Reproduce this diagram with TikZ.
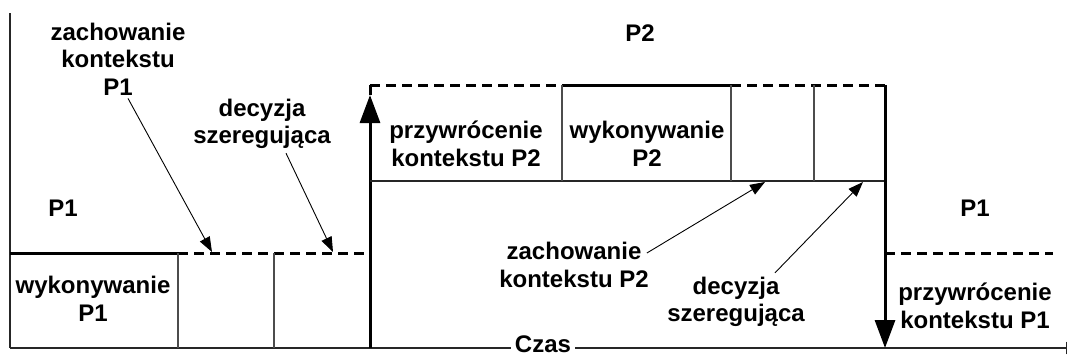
\documentclass[tikz,border=0pt]{standalone}
\usepackage{fontspec}
\setmainfont{Liberation Sans}
\usetikzlibrary{arrows.meta}
\begin{document}
\begin{tikzpicture}[x=1pt,y=-1pt,
  lbl/.style={font=\bfseries\fontsize{24}{27.5}\selectfont, align=center, inner sep=0pt},
  ptr/.style={draw, line width=0.9pt, -{Triangle[length=15pt,width=11pt]}},
  heavy/.style={line width=3pt},
  dashheavy/.style={line width=3pt, dash pattern=on 10pt off 6pt},
  cell/.style={draw=black!70, line width=1.2pt},
  axisline/.style={draw=black!85, line width=1.3pt},
  bigtip/.style={-{Triangle[length=28pt,width=20pt]}}
]
\useasboundingbox (0,0) rectangle (1067,356);

% coordinates
\coordinate (o) at (10,348);
\coordinate (top) at (10,13);
\coordinate (xend) at (1082,348);
\coordinate (a1) at (10,253);
\coordinate (a2) at (178,253);
\coordinate (a3) at (274,253);
\coordinate (a4) at (370,253);
\coordinate (a2b) at (178,348);
\coordinate (a3b) at (274,348);
\coordinate (u0) at (370,348);
\coordinate (utip) at (370,95);
\coordinate (b0) at (370,85);
\coordinate (b1) at (562,85);
\coordinate (b2) at (731,85);
\coordinate (b3) at (814,85);
\coordinate (b4) at (885,85);
\coordinate (c0) at (370,181);
\coordinate (c1) at (562,181);
\coordinate (c2) at (731,181);
\coordinate (c3) at (814,181);
\coordinate (c4) at (885,181);
\coordinate (d0) at (885,348);
\coordinate (e0) at (885,253);
\coordinate (e1) at (1053,253);
\coordinate (t1) at (212,252);
\coordinate (t2) at (333,252);
\coordinate (t3) at (765,182);
\coordinate (t4) at (863,182);

% axes
\draw[axisline] (top) -- (o);
\draw[axisline, -{Triangle[length=16pt,width=12pt]}] (o) -- (xend);
\node[lbl, fill=white, inner xsep=4pt, inner ysep=0pt] (czas) at (543,344.5) {Czas};

% left block P1
\draw[heavy] (a1) -- (a2);
\draw[dashheavy] (a2) -- (a4);
\draw[cell] (a2) -- (a2b);
\draw[cell] (a3) -- (a3b);

% up arrow
\draw[heavy, bigtip] (u0) -- (utip);
\draw[heavy] (utip) -- (b0);

% P2 block
\draw[dashheavy] (b0) -- (b1);
\draw[heavy] (b1) -- (b2);
\draw[dashheavy] (b2) -- (b4);
\draw[axisline] (c0) -- (c4);
\draw[cell] (b1) -- (c1);
\draw[cell] (b2) -- (c2);
\draw[cell] (b3) -- (c3);

% down arrow
\draw[heavy, bigtip] (b4) -- (d0);

% right P1
\draw[dashheavy] (e0) -- (e1);

% labels
\node[lbl] (zk1) at (118,59) {zachowanie\\kontekstu\\P1};
\node[lbl] (ds1) at (262,124) {decyzja\\szeregująca};
\node[lbl] (p1l) at (63,208) {P1};
\node[lbl] (wp1) at (93,299) {wykonywanie\\P1};
\node[lbl] (p2) at (640,33) {P2};
\node[lbl] (pk2) at (466,144) {przywrócenie\\kontekstu P2};
\node[lbl] (wp2) at (647,144) {wykonywanie\\P2};
\node[lbl] (p1r) at (975,208) {P1};
\node[lbl] (pk1) at (975,306) {przywrócenie\\kontekstu P1};
\node[lbl] (zk2) at (574,265) {zachowanie\\kontekstu P2};
\node[lbl] (ds2) at (736,302) {decyzja\\szeregująca};

% pointers
\draw[ptr] ([xshift=10pt,yshift=-3pt]zk1.south) -- (t1);
\draw[ptr] ([xshift=24pt,yshift=-4pt]ds1.south) -- (t2);
\draw[ptr] ([xshift=-2pt,yshift=12pt]zk2.east) -- (t3);
\draw[ptr] ([xshift=39pt,yshift=4pt]ds2.north) -- (t4);
\end{tikzpicture}
\end{document}
